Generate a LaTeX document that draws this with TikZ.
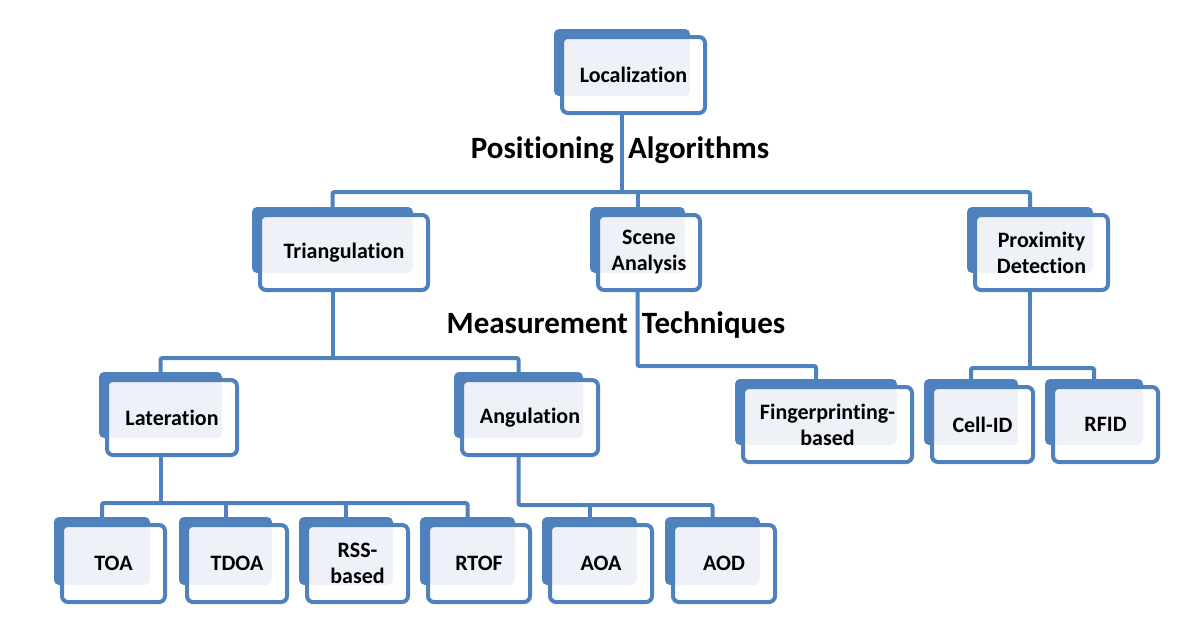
\documentclass[tikz,border=0pt]{standalone}
\usepackage{fontspec}
\setmainfont{Carlito}[Ligatures={NoCommon}]
\usetikzlibrary{calc}
\pgfdeclarelayer{paper}
\pgfdeclarelayer{bg}
\pgfsetlayers{paper,bg,main}
\definecolor{bblue}{RGB}{79,129,189}
\definecolor{lightfill}{RGB}{238,241,248}
\tikzset{
 conn/.style={draw=bblue, line width=4pt, rounded corners=2pt},
 backbox/.style={fill=bblue, rounded corners=5pt},
 frontbox/.style={draw=bblue, line width=4pt, fill=white, rounded corners=6pt, inner sep=0pt, align=center,
   font=\fontsize{22}{26}\selectfont\bfseries,
   path picture={\fill[lightfill] (path picture bounding box.north west) rectangle ([xshift=-15pt,yshift=17pt]path picture bounding box.south east);}},
 titletext/.style={font=\fontsize{31}{36}\selectfont\bfseries, anchor=base, inner sep=0pt}
}
\newcommand\bx[6]{%
 \fill[backbox] ({#2-8},{#3-8}) rectangle ({#4-15},{#5-17});
 \node[frontbox, minimum width={(#4-#2)*1pt}, minimum height={(#5-#3)*1pt}] (#1) at ({(#2+#4)/2},{(#3+#5)/2}) {#6};
 \coordinate (#1t) at ({(#2+#4-23)/2},{#3-8});
 \coordinate (#1c) at ({(#2+#4-23)/2},{(#3+#5)/2});
}
\begin{document}
\begin{tikzpicture}[x=1pt,y=-1pt]
\begin{pgfonlayer}{paper}
\fill[white] (0,0) rectangle (1193,633);
\end{pgfonlayer}
\useasboundingbox (0,0) rectangle (1193,633);
% boxes
\bx{loc}{562}{37}{705}{113}{Localization}
\bx{tri}{260}{215}{428}{290}{Triangulation}
\bx{scene}{598}{215}{700}{290}{Scene\\Analysis}
\bx{prox}{975}{215}{1108}{290}{Proximity\\Detection}
\bx{lat}{107}{380}{237}{455}{Lateration}
\bx{ang}{462}{380}{598}{455}{Angulation}
\bx{finger}{743}{387}{912}{462}{Fingerprinting-\\based}
\bx{cell}{932}{387}{1033}{462}{Cell-ID}
\bx{rfid}{1053}{387}{1158}{462}{RFID}
\bx{toa}{62}{525}{165}{602}{TOA}
\bx{tdoa}{187}{525}{287}{602}{TDOA}
\bx{rss}{307}{525}{408}{602}{RSS-\\based}
\bx{rtof}{428}{525}{530}{602}{RTOF}
\bx{aoa}{550}{525}{652}{602}{AOA}
\bx{aod}{673}{525}{775}{602}{AOD}
% titles
\node[titletext] (pa) at (620,158) {Positioning\ \ Algorithms};
\node[titletext] (mt) at (616,333) {Measurement\ \ Techniques};
% bus levels
\coordinate (bus1) at (0,192);
\coordinate (bus2) at (0,358);
\coordinate (bus3) at (0,366);
\coordinate (bus4) at (0,368);
\coordinate (bus5) at (0,503);
\coordinate (bus6) at (0,505);
\begin{pgfonlayer}{bg}
\draw[conn] (locc) -- (locc |- bus1);
\draw[conn] (trit) -- (trit |- bus1) -- (proxt |- bus1) -- (proxt);
\draw[conn] (scenet |- bus1) -- (scenet);
\draw[conn] (tric) -- (tric |- bus2);
\draw[conn] (latt) -- (latt |- bus2) -- (angt |- bus2) -- (angt);
\draw[conn] (scenec) -- (scenec |- bus3) -- (fingert |- bus3) -- (fingert);
\draw[conn] (proxc) -- (proxc |- bus4);
\draw[conn] (cellt) -- (cellt |- bus4) -- (rfidt |- bus4) -- (rfidt);
\draw[conn] (latc) -- (latc |- bus5);
\draw[conn] (toat) -- (toat |- bus5) -- (rtoft |- bus5) -- (rtoft);
\draw[conn] (tdoat |- bus5) -- (tdoat);
\draw[conn] (rsst |- bus5) -- (rsst);
\draw[conn] (angc) -- (angc |- bus6) -- (aodt |- bus6) -- (aodt);
\draw[conn] (aoat |- bus6) -- (aoat);
\end{pgfonlayer}
\end{tikzpicture}
\end{document}
